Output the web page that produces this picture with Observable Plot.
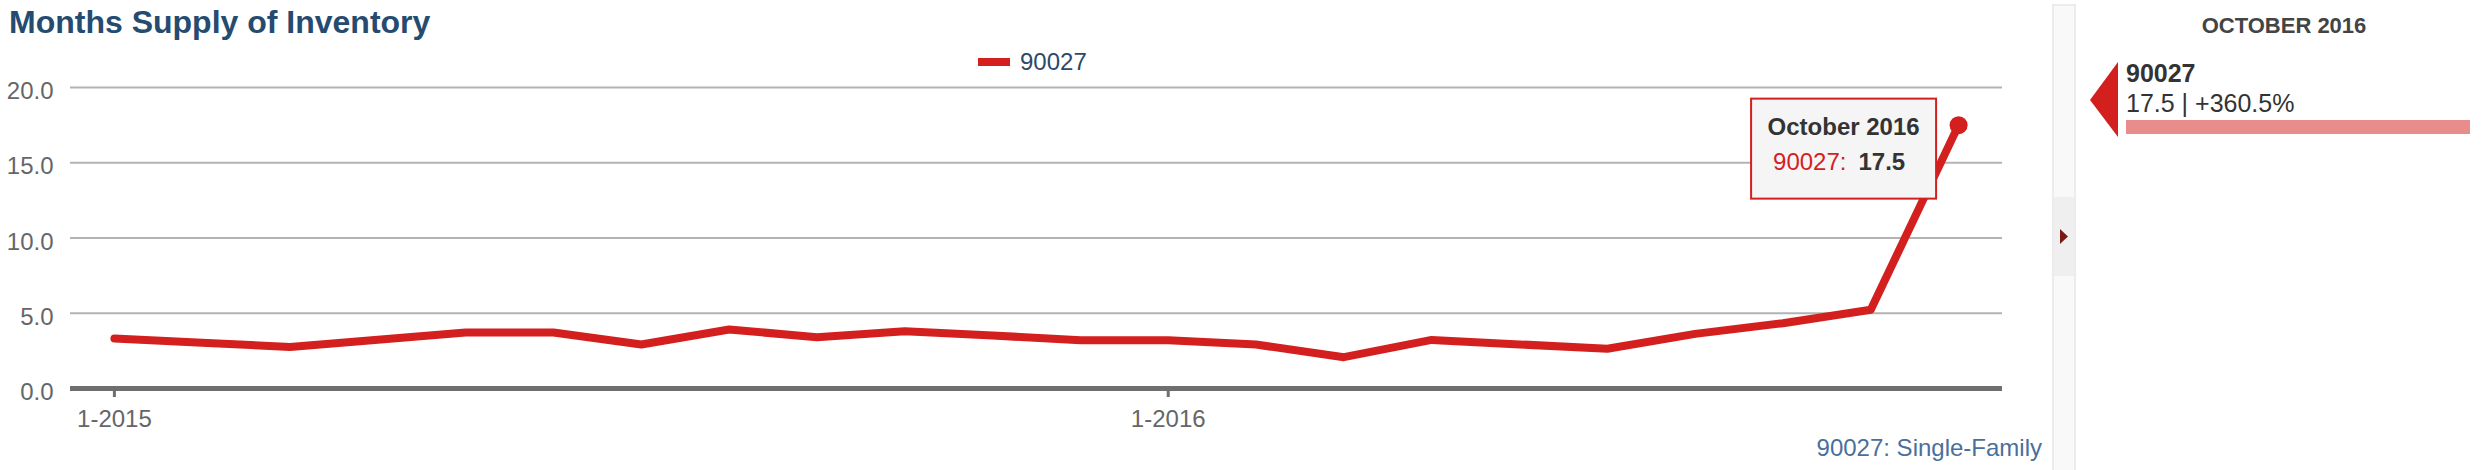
<!DOCTYPE html>
<html><head><meta charset="utf-8">
<script src="https://cdn.jsdelivr.net/npm/d3@7"></script>
<script src="https://cdn.jsdelivr.net/npm/@observablehq/plot@0.6"></script>
<style>
body{margin:0;background:#fff;font-family:"Liberation Sans",Arial,Helvetica,sans-serif;}
#wrap{position:relative;width:2484px;height:470px;overflow:hidden;}
#wrap svg{position:absolute;left:0;top:0;}
</style></head><body><div id="wrap"></div>
<script>
const months = ["1-2015","2-2015","3-2015","4-2015","5-2015","6-2015","7-2015","8-2015","9-2015","10-2015","11-2015","12-2015",
                "1-2016","2-2016","3-2016","4-2016","5-2016","6-2016","7-2016","8-2016","9-2016","10-2016"];
const supply = [3.32, 3.04, 2.76, 3.24, 3.72, 3.72, 2.92, 3.92, 3.41, 3.81, 3.52, 3.21,
                3.21, 2.92, 2.08, 3.23, 2.93, 2.64, 3.63, 4.34, 5.23, 17.5];
const xTicks = ["1-2015","1-2016"];
const yTicks = [0, 5, 10, 15, 20];
const seriesName = "90027";
const currentLabel = "October 2016";
const changeText = "17.5 | +360.5%";
const footnote = "90027: Single-Family";
const title = "Months Supply of Inventory";

const RED = "#d41f1f";
const FONT = "'Liberation Sans', Arial, Helvetica, sans-serif";
const data = months.map((m, i) => ({month: m, value: supply[i]}));
const last = data[data.length - 1];

const chart = Plot.plot({
  width: 2050, height: 470,
  marginLeft: 70, marginRight: 48, marginTop: 87, marginBottom: 82,
  style: {fontFamily: FONT, fontSize: "24px", background: "transparent", overflow: "visible"},
  x: {type: "point", domain: months, padding: 0.5, round: false, axis: null},
  y: {domain: [0, 20], axis: null},
  marks: [
    Plot.gridY(yTicks.filter(d => d > 0), {stroke: "#b3b3b3", strokeOpacity: 1, strokeWidth: 2}),
    Plot.axisY(yTicks, {tickSize: 0, tickPadding: 17, fontSize: 24, fill: "#666", tickFormat: d => d.toFixed(1), dy: 4, label: null}),
    Plot.ruleY([0], {stroke: "#6f6f6f", strokeWidth: 5}),
    Plot.axisX(xTicks, {tickSize: 9, tickPadding: 12, fontSize: 24, fill: "#666", stroke: "#6f6f6f", strokeWidth: 3, label: null}),
    Plot.line(data, {x: "month", y: "value", stroke: RED, strokeWidth: 8, strokeLinejoin: "round", strokeLinecap: "round"}),
    Plot.dot([last], {x: "month", y: "value", r: 9, fill: RED, stroke: "none"})
  ]
});
const wrap = document.getElementById("wrap");
wrap.appendChild(chart);

const sx = chart.scale("x"), sy = chart.scale("y");
const px = sx.apply(last.month), py = sy.apply(last.value);

const ov = d3.select(wrap).append("svg").attr("width", 2484).attr("height", 470)
  .style("font-family", FONT);

// title
ov.append("text").attr("x", 9).attr("y", 33).attr("font-size", 32).attr("font-weight", "bold")
  .attr("fill", "#254b70").text(title);

// legend
ov.append("rect").attr("x", 978).attr("y", 58).attr("width", 32).attr("height", 8).attr("fill", RED);
ov.append("text").attr("x", 1020).attr("y", 70).attr("font-size", 24).attr("fill", "#2b4a6b").text(seriesName);

// tooltip
const bw = 185, bh = 100;
const bx = px - 22 - bw, by = py - 26;
ov.append("rect").attr("x", bx).attr("y", by).attr("width", bw).attr("height", bh)
  .attr("fill", "#f5f5f5").attr("stroke", RED).attr("stroke-width", 2);
ov.append("text").attr("x", bx + bw / 2).attr("y", by + 36).attr("text-anchor", "middle")
  .attr("font-size", 24).attr("font-weight", "bold").attr("fill", "#333").text(currentLabel);
const t2 = ov.append("text").attr("x", bx + 22).attr("y", by + 71).attr("font-size", 24);
t2.append("tspan").attr("fill", RED).text(seriesName + ":");
t2.append("tspan").attr("dx", 12).attr("font-weight", "bold").attr("fill", "#333").text(last.value.toFixed(1));

// footnote
ov.append("text").attr("x", 2042).attr("y", 456).attr("text-anchor", "end").attr("font-size", 24)
  .attr("fill", "#4a6f9c").text(footnote);

// side scroll panel
ov.append("rect").attr("x", 2053).attr("y", 5).attr("width", 22).attr("height", 470)
  .attr("fill", "#f9f9f9").attr("stroke", "#ececec").attr("stroke-width", 2);
ov.append("rect").attr("x", 2054).attr("y", 197).attr("width", 20).attr("height", 79).attr("fill", "#efefef");
ov.append("path").attr("d", "M2060,229 L2068,236.5 L2060,244 Z").attr("fill", "#7b1a12");

// right summary
ov.append("text").attr("x", 2284).attr("y", 33).attr("text-anchor", "middle").attr("font-size", 22)
  .attr("font-weight", "bold").attr("fill", "#444").text(currentLabel.toUpperCase());
ov.append("path").attr("d", "M2118,62 L2090,100 L2118,137 Z").attr("fill", RED);
ov.append("text").attr("x", 2126).attr("y", 82).attr("font-size", 25).attr("font-weight", "bold")
  .attr("fill", "#333").text(seriesName);
ov.append("text").attr("x", 2126).attr("y", 112).attr("font-size", 25).attr("fill", "#333").text(changeText);
ov.append("rect").attr("x", 2126).attr("y", 120).attr("width", 344).attr("height", 14).attr("fill", "#e88c8c");
</script></body></html>
